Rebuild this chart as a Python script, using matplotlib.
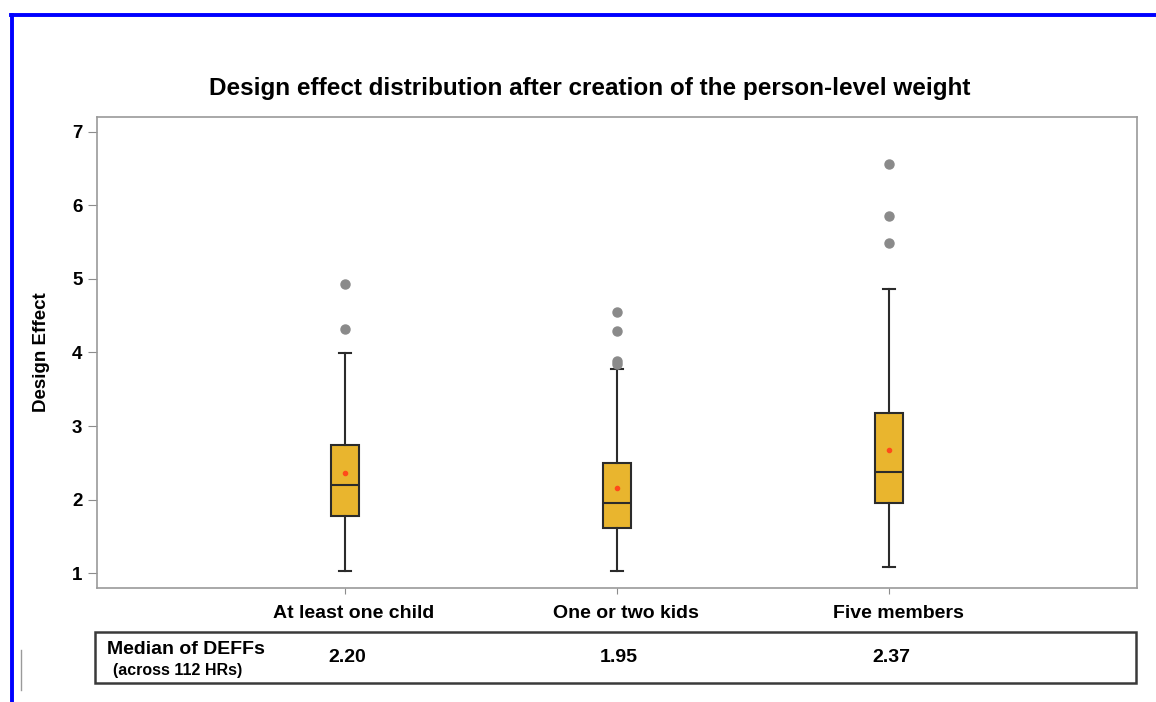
import matplotlib.pyplot as plt
from matplotlib.lines import Line2D
from matplotlib.patches import Rectangle

plt.rcParams['font.family'] = ['Liberation Sans', 'DejaVu Sans']

# data
groups = ["At least one child", "One or two kids", "Five members"]
q1 = [1.78, 1.61, 1.95]
medians = [2.20, 1.95, 2.37]
q3 = [2.74, 2.50, 3.18]
means = [2.36, 2.16, 2.67]
whisker_lo = [1.03, 1.03, 1.08]
whisker_hi = [3.99, 3.78, 4.86]
outliers = [[4.32, 4.93], [3.85, 3.89, 4.29, 4.55], [5.49, 5.86, 6.56]]
median_labels = ["2.20", "1.95", "2.37"]

title = "Design effect distribution after creation of the person-level weight"

fig = plt.figure(figsize=(11.56, 7.02), dpi=100)
W, H = 1156, 702

def fx(px):
    return px / W

def fy(py):
    return 1 - py / H

ax = fig.add_axes([fx(97), fy(588), fx(1137) - fx(97), fy(117) - fy(588)])

stats = []
for i in range(len(groups)):
    stats.append({
        "q1": q1[i], "med": medians[i], "q3": q3[i], "mean": means[i],
        "whislo": whisker_lo[i], "whishi": whisker_hi[i], "fliers": outliers[i],
        "label": groups[i],
    })

positions = list(range(1, len(groups) + 1))
edge = "#2b2b2b"
ax.bxp(stats, positions=positions, widths=0.1, patch_artist=True, showmeans=True,
       boxprops=dict(facecolor="#E9B52E", edgecolor=edge, linewidth=1.5),
       medianprops=dict(color=edge, linewidth=1.5),
       whiskerprops=dict(color=edge, linewidth=1.5),
       capprops=dict(color=edge, linewidth=1.5),
       capwidths=0.045,
       flierprops=dict(marker="o", markerfacecolor="#8a8a8a", markeredgecolor="#8a8a8a",
                       markersize=6.5),
       meanprops=dict(marker="o", markerfacecolor="#FF4A1A", markeredgecolor="#FF4A1A",
                      markersize=3))

ax.set_xlim(0.088, 3.912)
ax.set_ylim(0.796, 7.204)
ax.set_yticks([1, 2, 3, 4, 5, 6, 7])
ax.set_yticklabels(["1", "2", "3", "4", "5", "6", "7"], fontsize=13.5, fontweight="bold")
ax.set_xticks(positions)
ax.set_xticklabels([])
ax.tick_params(axis="y", length=6.5, color="#8c8c8c", pad=4)
ax.tick_params(axis="x", length=4.5, color="#8c8c8c")
for s in ax.spines.values():
    s.set_color("#9a9a9a")
    s.set_linewidth(1.2)

ax.set_ylabel("Design Effect", fontsize=13.5, fontweight="bold", labelpad=16)

# title, centred on the page rather than on the axes
fig.text(fx(590), fy(88), title, ha="center", va="center", fontsize=17.5, fontweight="bold")

# category labels under the axis and the medians in the table row
for i, p in enumerate(positions):
    x_px = ax.transData.transform((p, 0))[0]
    fig.text(fx(x_px + 9), fy(614), groups[i], ha="center", va="center", fontsize=14,
             fontweight="bold")
    fig.text(fx(x_px + 2), fy(657), median_labels[i], ha="center", va="center",
             fontsize=14, fontweight="bold")

# summary table box
fig.patches.append(Rectangle((fx(95), fy(683)), fx(1136) - fx(95), fy(632) - fy(683),
                             transform=fig.transFigure, fill=False, edgecolor="#3a3a3a",
                             linewidth=1.8))
fig.text(fx(107), fy(649), "Median of DEFFs", ha="left", va="center", fontsize=14,
         fontweight="bold")
fig.text(fx(113), fy(670), "(across 112 HRs)", ha="left", va="center", fontsize=11.5,
         fontweight="bold")

# blue frame on the top and left edges
fig.lines.append(Line2D([fx(12.5), fx(12.5)], [0, fy(14.5)], transform=fig.transFigure,
                        color="#0000FF", linewidth=2.8))
fig.lines.append(Line2D([fx(11), 1], [fy(14.5), fy(14.5)], transform=fig.transFigure,
                        color="#0000FF", linewidth=2.8))
fig.lines.append(Line2D([fx(21), fx(21)], [fy(690), fy(650)], transform=fig.transFigure,
                        color="#9a9a9a", linewidth=1))

fig.savefig("out.png", dpi=100)
